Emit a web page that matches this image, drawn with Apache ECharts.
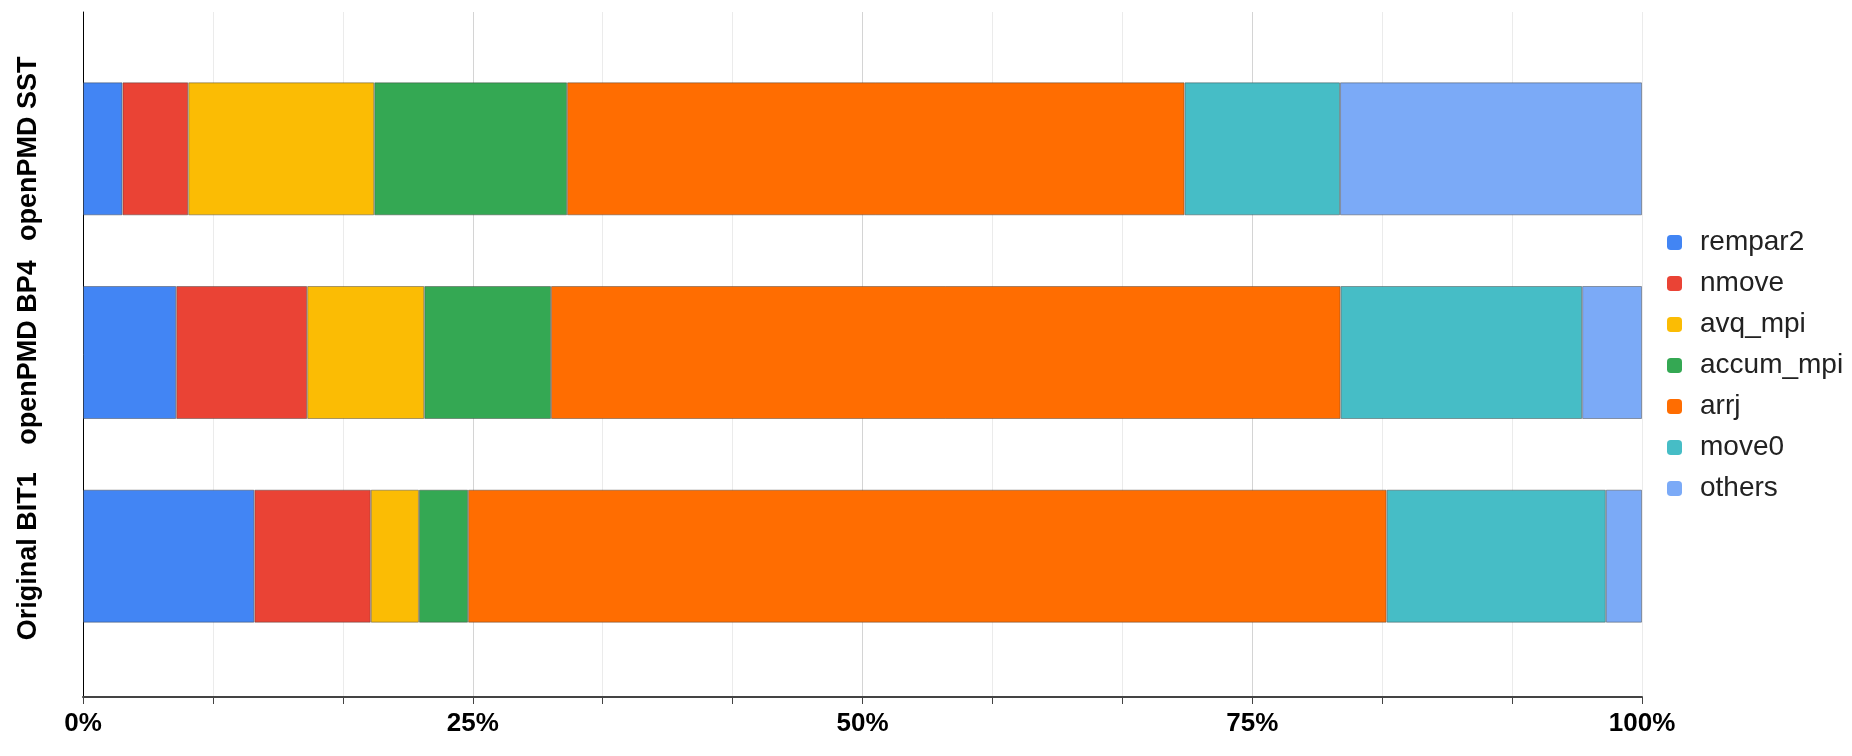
<!DOCTYPE html>
<html>
<head>
<meta charset="utf-8">
<title>Profile breakdown</title>
<script src="https://cdn.jsdelivr.net/npm/echarts@6/dist/echarts.min.js"></script>
<style>
  html, body { margin: 0; padding: 0; background: #fff; }
  #profile-chart { width: 1852px; height: 756px; }
</style>
</head>
<body>
<div id="profile-chart"></div>
<script>
// categories top to bottom
const categories = ['openPMD SST', 'openPMD BP4', 'Original BIT1'];

// share of run time (%) per function, same order as categories
const rempar2 = [2.53, 5.98, 10.99];
const nmove = [4.22, 8.40, 7.47];
const avqMpi = [11.93, 7.51, 3.09];
const accumMpi = [12.37, 8.13, 3.15];
const arrj = [39.61, 50.65, 58.92];
const move0 = [9.97, 15.49, 14.06];
const others = [19.37, 3.84, 2.32];

const seriesNames = ['rempar2', 'nmove', 'avq_mpi', 'accum_mpi', 'arrj', 'move0', 'others'];
const seriesData = [rempar2, nmove, avqMpi, accumMpi, arrj, move0, others];
const colors = ['#4285F4', '#EA4335', '#FBBC04', '#34A853', '#FF6D01', '#46BDC6', '#7BAAF7'];

const FONT = '"Liberation Sans", Arial, sans-serif';

const chart = echarts.init(document.getElementById('profile-chart'));

chart.setOption({
  animation: false,
  color: colors,
  legend: {
    orient: 'vertical',
    left: 1662,
    top: 223,
    itemWidth: 15,
    itemHeight: 15,
    itemGap: 12,
    icon: 'roundRect',
    data: seriesNames,
    itemStyle: { borderWidth: 0 },
    textStyle: {
      fontFamily: FONT,
      fontSize: 28,
      lineHeight: 29,
      color: '#222',
      padding: [0, 0, 0, 13]
    }
  },
  grid: [
    // frame: axis lines, grid lines, percent labels
    { left: 83, right: 210, top: 12, bottom: 59 },
    // bars
    { left: 83, right: 210, top: 47, bottom: 98 }
  ],
  xAxis: [
    {
      gridIndex: 0,
      type: 'value',
      min: 0,
      max: 100,
      interval: 100 / 12,
      axisLine: { show: true, lineStyle: { color: '#444', width: 2 } },
      axisTick: { show: true, length: 7, lineStyle: { color: '#444' } },
      splitLine: {
        show: true,
        lineStyle: { color: ['#d4d4d4', '#ebebeb', '#ebebeb'], width: 1 }
      },
      axisLabel: {
        margin: 14,
        fontFamily: FONT,
        fontSize: 26,
        fontWeight: 'bold',
        color: '#000',
        formatter: function (v) {
          const q = v / 25;
          return Math.abs(q - Math.round(q)) < 1e-6 ? Math.round(v) + '%' : '';
        }
      }
    },
    {
      gridIndex: 1,
      type: 'value',
      min: 0,
      max: 100,
      show: false
    }
  ],
  yAxis: [
    {
      gridIndex: 0,
      type: 'value',
      axisLine: { show: true, lineStyle: { color: '#000', width: 1 } },
      axisTick: { show: false },
      axisLabel: { show: false },
      splitLine: { show: false }
    },
    {
      gridIndex: 1,
      type: 'category',
      inverse: true,
      data: categories,
      axisLine: { show: false },
      axisTick: { show: false },
      splitLine: { show: false },
      axisLabel: {
        interval: 0,
        rotate: 90,
        margin: 41,
        fontFamily: FONT,
        fontSize: 27,
        fontWeight: 'bold',
        color: '#000'
      }
    }
  ],
  series: seriesNames.map(function (name, i) {
    return {
      name: name,
      type: 'bar',
      stack: 'total',
      xAxisIndex: 1,
      yAxisIndex: 1,
      barWidth: 133,
      data: seriesData[i],
      itemStyle: {
        color: colors[i],
        borderColor: 'rgba(60,60,60,0.45)',
        borderWidth: 1
      },
      emphasis: { disabled: true }
    };
  })
});
</script>
</body>
</html>
